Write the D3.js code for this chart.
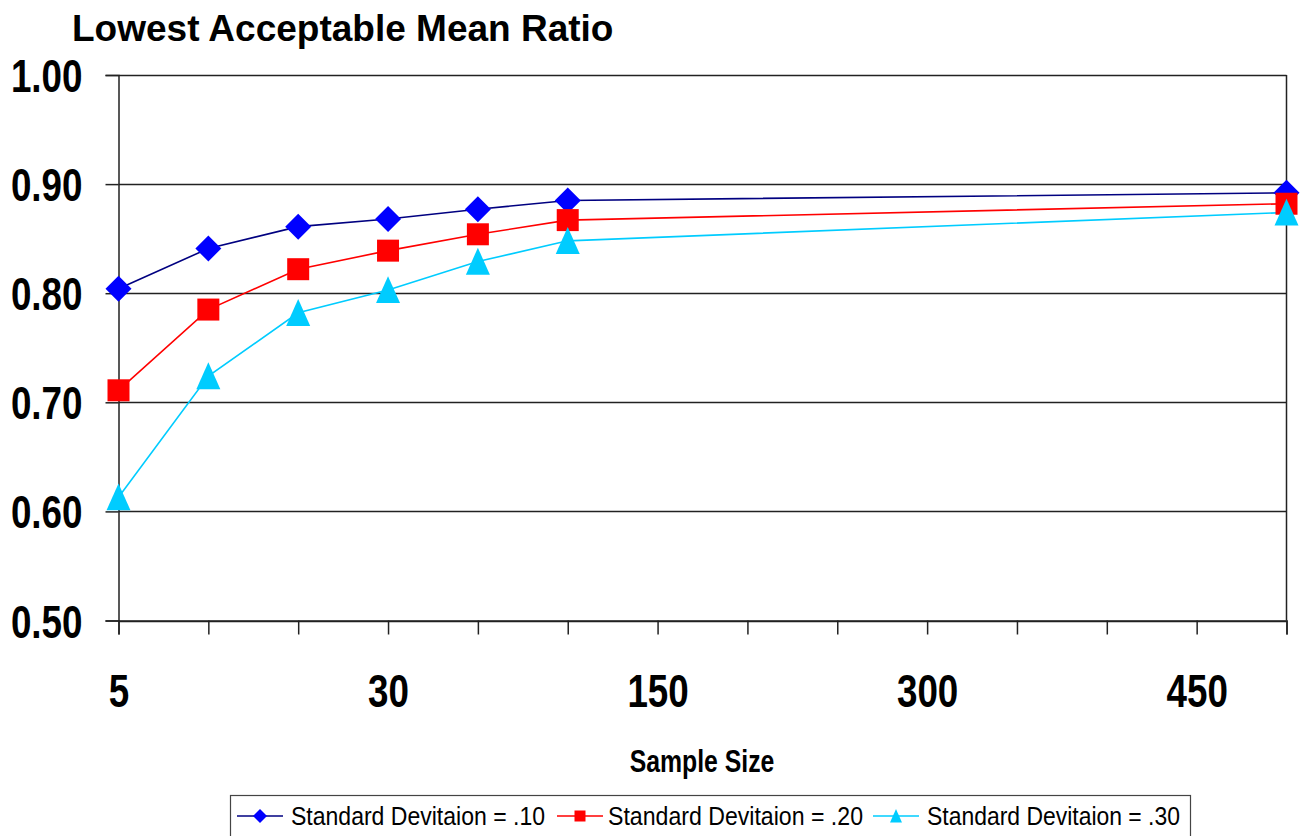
<!DOCTYPE html>
<html>
<head>
<meta charset="utf-8">
<script src="https://cdn.jsdelivr.net/npm/d3@7/dist/d3.min.js"></script>
<style>
  html, body { margin: 0; padding: 0; background: #fff; }
  svg { display: block; }
  .narrow { font-family: "Liberation Sans", Arial, sans-serif; }
</style>
</head>
<body>
<svg id="chart" width="1302" height="836"></svg>
<script>
// ---------- data ----------
const title = "Lowest Acceptable Mean Ratio";
const xAxisTitle = "Sample Size";
// category slots along the x axis (14 tick marks), labels shown every third slot
const xTickLabels = ["5", "", "", "30", "", "", "150", "", "", "300", "", "", "450", ""];
// slot index of each observed point
const pointSlots = [0, 1, 2, 3, 4, 5, 13];
const sd10 = [0.804, 0.841, 0.861, 0.868, 0.877, 0.885, 0.892];
const sd20 = [0.711, 0.785, 0.822, 0.839, 0.854, 0.867, 0.882];
const sd30 = [0.613, 0.724, 0.782, 0.803, 0.829, 0.848, 0.874];
const yTicks = [0.50, 0.60, 0.70, 0.80, 0.90, 1.00];
const seriesNames = ["Standard Devitaion = .10", "Standard Devitaion = .20", "Standard Devitaion = .30"];

// ---------- layout ----------
const svg = d3.select("#chart");
const plot = { left: 118.5, right: 1286.5, top: 75, bottom: 620.5 };
const NARROW = 0.8; // horizontal condensing of the narrow-style labels

const x = d3.scaleLinear().domain([0, xTickLabels.length - 1]).range([plot.left, plot.right]);
const y = d3.scaleLinear().domain([0.5, 1.0]).range([plot.bottom, plot.top]);

const series = [
  { name: seriesNames[0], values: sd10, line: "#000080", fill: "#0000ff", shape: "diamond" },
  { name: seriesNames[1], values: sd20, line: "#ff0000", fill: "#ff0000", shape: "square" },
  { name: seriesNames[2], values: sd30, line: "#00ccff", fill: "#00ccff", shape: "triangle" }
];

function condense(sel, factor) {
  sel.each(function () {
    const len = this.getComputedTextLength();
    if (len > 0) {
      d3.select(this).attr("textLength", len * factor).attr("lengthAdjust", "spacingAndGlyphs");
    }
  });
}

// title
svg.append("text")
  .attr("x", 72).attr("y", 41)
  .attr("font-family", "'Liberation Sans', Arial, sans-serif")
  .attr("font-weight", "bold")
  .attr("font-size", 37)
  .attr("fill", "#000")
  .text(title);

// gridlines
svg.append("g")
  .selectAll("line")
  .data(yTicks)
  .join("line")
  .attr("x1", plot.left).attr("x2", plot.right)
  .attr("y1", d => Math.round(y(d)) + 0.5).attr("y2", d => Math.round(y(d)) + 0.5)
  .attr("stroke", "#222").attr("stroke-width", 1.5);

// plot border (right side)
svg.append("line")
  .attr("x1", plot.right).attr("x2", plot.right)
  .attr("y1", plot.top).attr("y2", plot.bottom)
  .attr("stroke", "#222").attr("stroke-width", 1.5);

// y axis
const yAxis = d3.axisLeft(y).tickValues(yTicks).tickSize(13).tickFormat(d => d.toFixed(2));
const gy = svg.append("g").attr("transform", `translate(${plot.left},0)`).call(yAxis);
gy.select(".domain").attr("stroke", "#222").attr("stroke-width", 1.5);
gy.selectAll(".tick line").attr("stroke", "#222").attr("stroke-width", 1.5);
gy.selectAll(".tick text")
  .attr("class", "narrow")
  .attr("font-weight", "bold")
  .attr("font-size", 46)
  .attr("fill", "#000")
  .attr("x", -36)
  .attr("dy", "0.36em")
  .call(condense, NARROW);

// x axis
const xAxis = d3.axisBottom(x).tickValues(d3.range(xTickLabels.length))
  .tickSize(14).tickFormat(i => xTickLabels[i]);
const gx = svg.append("g").attr("transform", `translate(0,${plot.bottom})`).call(xAxis);
gx.select(".domain").attr("stroke", "#222").attr("stroke-width", 1.5);
gx.selectAll(".tick line").attr("stroke", "#222").attr("stroke-width", 1.5);
gx.selectAll(".tick text")
  .attr("class", "narrow")
  .attr("font-weight", "bold")
  .attr("font-size", 46)
  .attr("fill", "#000")
  .attr("y", 86)
  .attr("dy", 0)
  .call(condense, NARROW);

// x axis title
svg.append("text")
  .attr("class", "narrow")
  .attr("x", 702).attr("y", 772)
  .attr("text-anchor", "middle")
  .attr("font-weight", "bold")
  .attr("font-size", 31)
  .attr("fill", "#000")
  .text(xAxisTitle)
  .call(condense, NARROW);

// marker path generator
function markerPath(shape, s) {
  if (shape === "diamond") return `M0,${-s}L${s},0L0,${s}L${-s},0Z`;
  if (shape === "square") return `M${-s},${-s}H${s}V${s}H${-s}Z`;
  const h = s * 1.15;
  return `M0,${-h}L${s},${h * 0.95}L${-s},${h * 0.95}Z`;
}
const markerSize = { diamond: 13, square: 11, triangle: 12 };

const line = d3.line().x((d, i) => x(pointSlots[i])).y(d => y(d));

const gs = svg.append("g");
series.forEach(s => {
  gs.append("path")
    .attr("d", line(s.values))
    .attr("fill", "none")
    .attr("stroke", s.line)
    .attr("stroke-width", 1.6);
});
series.forEach(s => {
  gs.append("g")
    .selectAll("path")
    .data(s.values)
    .join("path")
    .attr("transform", (d, i) => `translate(${x(pointSlots[i])},${y(d)})`)
    .attr("d", markerPath(s.shape, markerSize[s.shape]))
    .attr("fill", s.fill);
});

// legend
const legend = svg.append("g");
legend.append("rect")
  .attr("x", 230.5).attr("y", 795.5)
  .attr("width", 960).attr("height", 50)
  .attr("fill", "#fff").attr("stroke", "#444").attr("stroke-width", 1.2);

const legendItems = [
  { lx1: 237, lx2: 283, tx: 291, tw: 254 },
  { lx1: 557, lx2: 603, tx: 608, tw: 255 },
  { lx1: 873, lx2: 919, tx: 927, tw: 253 }
];
const legendMarkerSize = { diamond: 7, square: 5.5, triangle: 6 };
series.forEach((s, k) => {
  const it = legendItems[k];
  const ly = 816;
  legend.append("line")
    .attr("x1", it.lx1).attr("x2", it.lx2).attr("y1", ly).attr("y2", ly)
    .attr("stroke", s.line).attr("stroke-width", 1.6);
  legend.append("path")
    .attr("transform", `translate(${(it.lx1 + it.lx2) / 2},${ly})`)
    .attr("d", markerPath(s.shape, legendMarkerSize[s.shape]))
    .attr("fill", s.fill);
  legend.append("text")
    .attr("class", "narrow")
    .attr("x", it.tx).attr("y", ly + 9)
    .attr("font-size", 25)
    .attr("fill", "#000")
    .attr("textLength", it.tw)
    .attr("lengthAdjust", "spacingAndGlyphs")
    .text(s.name);
});
</script>
</body>
</html>
